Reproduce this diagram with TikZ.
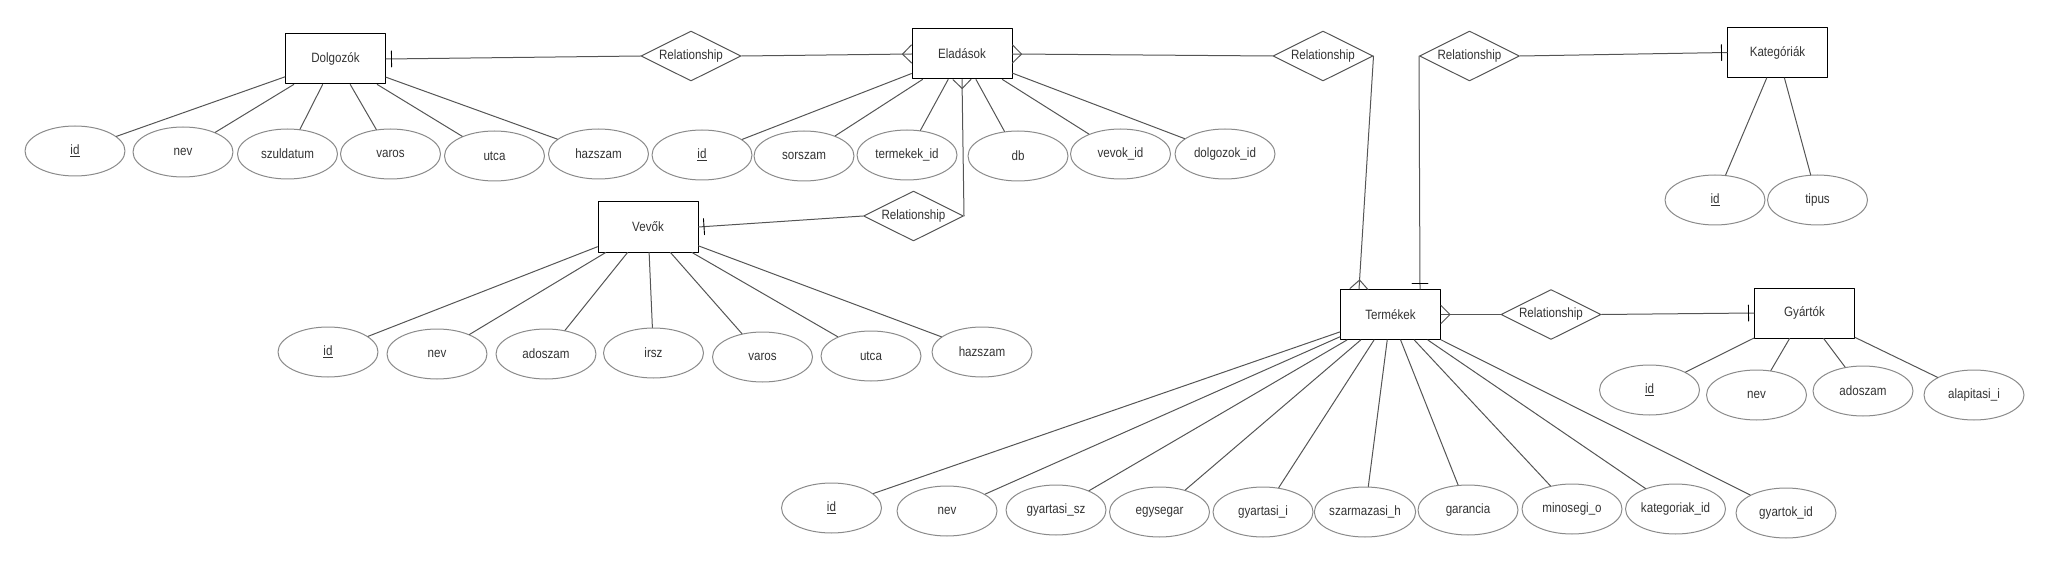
\documentclass[tikz,border=0pt]{standalone}
\usepackage{fontspec}
\setmainfont{Liberation Sans}[FakeStretch=0.86]
\usetikzlibrary{shapes.geometric,decorations.markings}
\definecolor{txt}{HTML}{333333}
\definecolor{ln}{HTML}{555555}
\definecolor{ell}{HTML}{8A8A8A}
\begin{document}
\begin{tikzpicture}[x=1pt,y=-1pt,line join=round,line cap=round,font=\fontsize{13.5}{15}\selectfont,text=txt,
		ent/.style={draw=black,line width=1pt,minimum width=100pt,minimum height=50pt,inner sep=0pt},
		attr/.style={draw=ell,ellipse,line width=1pt,minimum width=100pt,minimum height=50pt,inner sep=0pt},
		rel/.style={draw=ln,diamond,aspect=2,line width=1pt,minimum width=100pt,minimum height=50pt,inner sep=0pt},
		lnk/.style={draw=ln,line width=1pt},
		onestart/.style={postaction={decorate,decoration={markings,mark=at position 5.5pt with {\draw[black,line width=.9pt] (0,-8pt)--(0,8pt);}}}},
		oneend/.style={postaction={decorate,decoration={markings,mark=at position -5.5pt with {\draw[black,line width=.9pt] (0,-8pt)--(0,8pt);}}}},
		manystart/.style={postaction={decorate,decoration={markings,mark=at position 9pt with {\draw[ln,line width=1pt] (0,0)--(-9pt,9pt) (0,0)--(-9pt,-9pt);}}}},
		manyend/.style={postaction={decorate,decoration={markings,mark=at position -9pt with {\draw[ln,line width=1pt] (0,0)--(9pt,9pt) (0,0)--(9pt,-9pt);}}}}]
	\useasboundingbox (0,0) rectangle (2050,564);
	\node[ent] (D) at (335.5,59) {Dolgozók};
	\node[ent] (E) at (962,54) {Eladások};
	\node[ent] (V) at (648,227) {Vevők};
	\node[ent] (T) at (1390.5,314.5) {Termékek};
	\node[ent] (K) at (1777.5,52.5) {Kategóriák};
	\node[ent] (G) at (1804.5,313) {Gyártók};
	\node[rel] (R1) at (691,56) {Relationship};
	\node[rel] (R2) at (1323,56) {Relationship};
	\node[rel] (R3) at (1469.5,56) {Relationship};
	\node[rel] (R4) at (1551,314.5) {Relationship};
	\node[rel] (R5) at (913.5,216) {Relationship};
	\node[attr] (d1) at (75,151) {\underline{id}};
	\node[attr] (d2) at (183,152) {nev};
	\node[attr] (d3) at (287.5,154) {szuldatum};
	\node[attr] (d4) at (390.5,154) {varos};
	\node[attr] (d5) at (494.5,156) {utca};
	\node[attr] (d6) at (598.5,154) {hazszam};
	\node[attr] (e1) at (702,155) {\underline{id}};
	\node[attr] (e2) at (804,156) {sorszam};
	\node[attr] (e3) at (907,155) {termekek\_id};
	\node[attr] (e4) at (1018,156) {db};
	\node[attr] (e5) at (1120.5,154) {vevok\_id};
	\node[attr] (e6) at (1225,154) {dolgozok\_id};
	\node[attr] (v1) at (328,352) {\underline{id}};
	\node[attr] (v2) at (437,354) {nev};
	\node[attr] (v3) at (546,354) {adoszam};
	\node[attr] (v4) at (653.5,353) {irsz};
	\node[attr] (v5) at (762.5,357) {varos};
	\node[attr] (v6) at (871,356) {utca};
	\node[attr] (v7) at (982,352) {hazszam};
	\node[attr] (t1) at (831.5,508) {\underline{id}};
	\node[attr] (t2) at (947,511) {nev};
	\node[attr] (t3) at (1056,510) {gyartasi\_sz};
	\node[attr] (t4) at (1159.5,512) {egysegar};
	\node[attr] (t5) at (1263,512) {gyartasi\_i};
	\node[attr] (t6) at (1365,512) {szarmazasi\_h};
	\node[attr] (t7) at (1468,510) {garancia};
	\node[attr] (t8) at (1572,509) {minosegi\_o};
	\node[attr] (t9) at (1675.5,509) {kategoriak\_id};
	\node[attr] (t10) at (1786,513) {gyartok\_id};
	\node[attr] (k1) at (1715,200) {\underline{id}};
	\node[attr] (k2) at (1817.5,200) {tipus};
	\node[attr] (g1) at (1649.5,390) {\underline{id}};
	\node[attr] (g2) at (1756.5,395) {nev};
	\node[attr] (g3) at (1863,391) {adoszam};
	\node[attr] (g4) at (1974,395) {alapitasi\_i};
	\draw[lnk] (D)--(d1) (D)--(d2) (D)--(d3) (D)--(d4) (D)--(d5) (D)--(d6);
	\draw[lnk] (E)--(e1) (E)--(e2) (E)--(e3) (E)--(e4) (E)--(e5) (E)--(e6);
	\draw[lnk] (V)--(v1) (V)--(v2) (V)--(v3) (V)--(v4) (V)--(v5) (V)--(v6) (V)--(v7);
	\draw[lnk] (T)--(t1) (T)--(t2) (T)--(t3) (T)--(t4) (T)--(t5) (T)--(t6) (T)--(t7) (T)--(t8) (T)--(t9) (T)--(t10);
	\draw[lnk] (K)--(k1) (K)--(k2);
	\draw[lnk] (G)--(g1) (G)--(g2) (G)--(g3) (G)--(g4);
	\draw[lnk,onestart] (D.east)--(R1.west);
	\draw[lnk,manyend] (R1.east)--(E.west);
	\draw[lnk,manystart] (E.east)--(R2.west);
	\draw[lnk,manyend] (R2.east)--([xshift=-31.5pt]T.north);
	\draw[lnk,oneend] (R3.west)--([xshift=29.5pt]T.north);
	\draw[lnk,oneend] (R3.east)--(K.west);
	\draw[lnk,manystart] (T.east)--(R4.west);
	\draw[lnk,oneend] (R4.east)--(G.west);
	\draw[lnk,onestart] (V.east)--(R5.west);
	\draw[lnk,manyend] (R5.east)--(E.south);
\end{tikzpicture}
\end{document}
